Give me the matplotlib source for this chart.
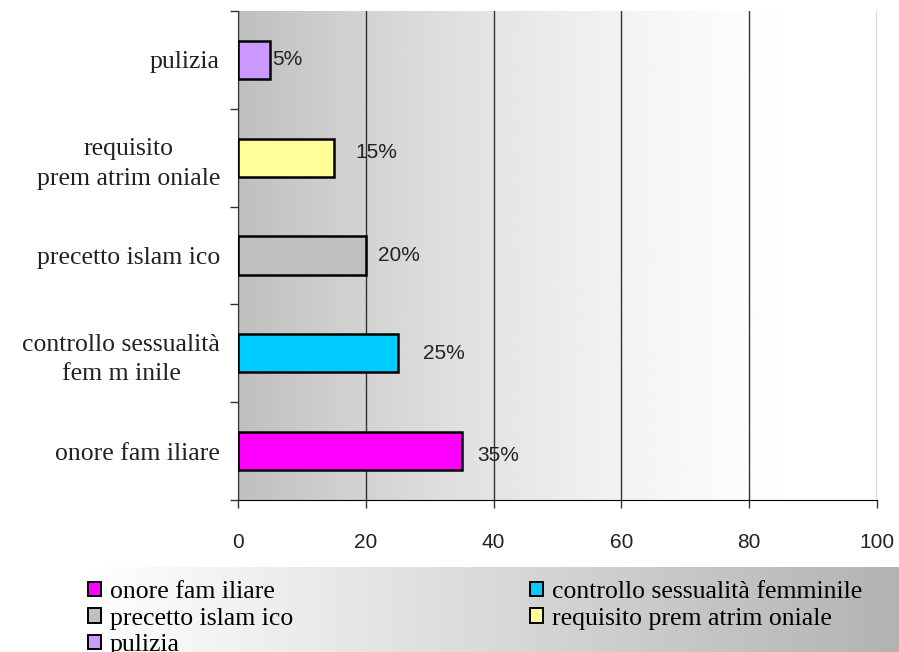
import numpy as np
import matplotlib
matplotlib.use('Agg')
import matplotlib.pyplot as plt
from matplotlib.patches import Patch

# dati (dal basso verso l'alto)
categories = ['onore fam iliare', 'controllo sessualità\nfem m inile', 'precetto islam ico',
              'requisito\nprem atrim oniale', 'pulizia']
legend_labels = ['onore fam iliare', 'controllo sessualità femminile', 'precetto islam ico',
                 'requisito prem atrim oniale', 'pulizia']
values = [35, 25, 20, 15, 5]
colors = ['#FF00FF', '#00CCFF', '#C0C0C0', '#FFFF99', '#CC99FF']
xticks = [0, 20, 40, 60, 80, 100]

# spostamento delle etichette percentuali
label_dx = [2.4, 4.0, 1.9, 3.3, 0.3]
label_dy = [-0.05, 0.0, 0.0, 0.05, 0.0]

W, H = 899, 652
fig = plt.figure(figsize=(W / 100, H / 100), dpi=100)

# sfondo sfumato della legenda
ax_leg = fig.add_axes([80 / W, 0, (W - 80) / W, 85 / H])
grad_leg = np.linspace(1.0, 0.70, 256)[None, :]
ax_leg.imshow(grad_leg, cmap='gray', vmin=0, vmax=1, aspect='auto', extent=[0, 1, 0, 1])
ax_leg.set_axis_off()

ax = fig.add_axes([238 / W, 1 - 500 / H, (877 - 238) / W, (500 - 11) / H])
y = np.arange(len(values))

# sfondo sfumato dell'area del grafico
xs = np.linspace(0, 1, 200)
grad = 1 - 0.25 * (1 - xs) ** 1.5
ax.imshow(grad[None, :], cmap='gray', vmin=0, vmax=1, aspect='auto',
          extent=[0, 91, -0.5, len(values) - 0.5], zorder=0)

ax.barh(y, values, height=0.39, color=colors, edgecolor='black', linewidth=1.8, zorder=3)

for i, v in enumerate(values):
    ax.text(v + label_dx[i], y[i] + label_dy[i], f'{v}%', fontsize=15,
            family='Liberation Sans', color='#222222', va='center', ha='left', zorder=4)

ax.set_xlim(0, 100)
ax.set_ylim(-0.5, len(values) - 0.5)
ax.set_xticks(xticks)
ax.set_xticklabels([str(t) for t in xticks], fontsize=15, family='Liberation Sans', color='#222222')
ax.set_yticks(y)
ax.set_yticklabels(categories, fontsize=18.5, family='Liberation Serif', color='#222222',
                   multialignment='center', linespacing=1.45)
ax.set_yticks(np.arange(-0.5, len(values), 1.0), minor=True)
ax.tick_params(axis='y', which='major', length=0, pad=13)
ax.tick_params(axis='y', which='minor', length=6, width=1, color='#333333')
ax.tick_params(axis='x', length=6, width=1, color='#333333', pad=18)

ax.grid(axis='x', color='#333333', linewidth=1, zorder=1)
ax.set_axisbelow(True)
for s in ['top', 'right']:
    ax.spines[s].set_visible(False)
ax.spines['left'].set_color('#333333')
ax.spines['bottom'].set_color('black')

# legenda su due colonne
handles = [Patch(facecolor=c, edgecolor='black', linewidth=1.4) for c in colors]
col1 = [0, 2, 4]
col2 = [1, 3]
leg_kw = dict(frameon=False, loc='upper left', borderpad=0, borderaxespad=0,
              handlelength=0.5, handleheight=0.5, handletextpad=0.35, labelspacing=0.18,
              prop={'family': 'Liberation Serif', 'size': 18.5})
leg1 = fig.legend([handles[i] for i in col1], [legend_labels[i] for i in col1],
                  bbox_to_anchor=(88 / W, 1 - 581 / H), bbox_transform=fig.transFigure, **leg_kw)
leg2 = fig.legend([handles[i] for i in col2], [legend_labels[i] for i in col2],
                  bbox_to_anchor=(530 / W, 1 - 581 / H), bbox_transform=fig.transFigure, **leg_kw)

fig.savefig('out.png', dpi=100)
